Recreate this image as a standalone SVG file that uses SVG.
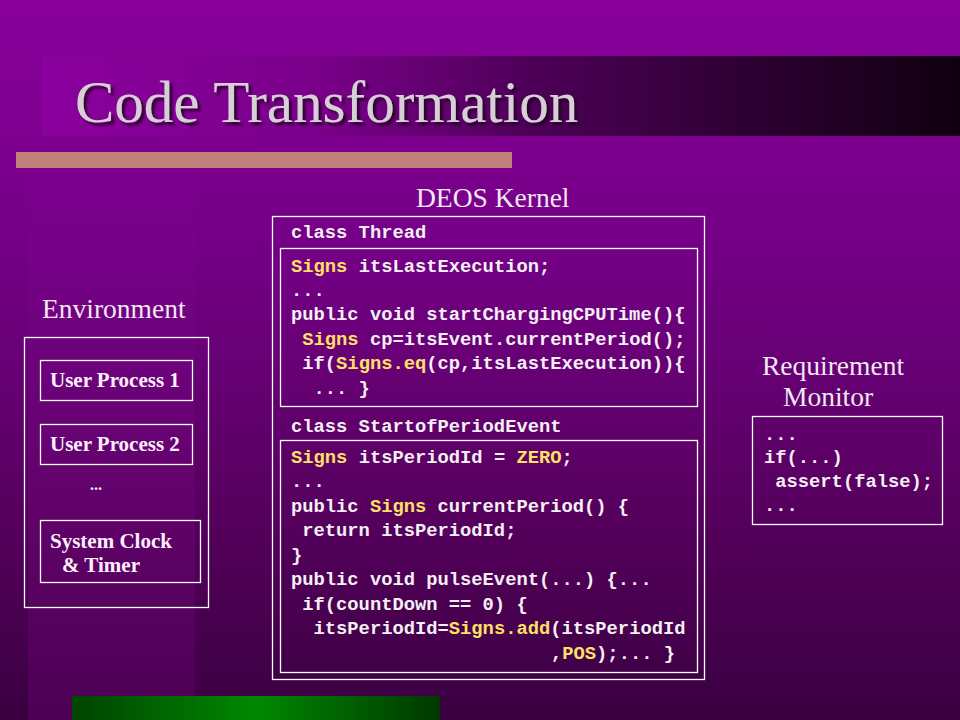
<svg xmlns="http://www.w3.org/2000/svg" width="960" height="720" viewBox="0 0 960 720">
<defs>
<linearGradient id="bg" x1="0" y1="0" x2="0" y2="1">
<stop offset="0" stop-color="#88009A"/>
<stop offset="0.35" stop-color="#740086"/>
<stop offset="0.7" stop-color="#57005F"/>
<stop offset="1" stop-color="#3A0040"/>
</linearGradient>
<linearGradient id="band" x1="0" y1="0" x2="1" y2="0">
<stop offset="0" stop-color="#8A009D"/>
<stop offset="0.3" stop-color="#7A008A"/>
<stop offset="0.55" stop-color="#4A0054"/>
<stop offset="1" stop-color="#100010"/>
</linearGradient>
<linearGradient id="col" x1="0" y1="0" x2="0" y2="1">
<stop offset="0" stop-color="#9A10AA" stop-opacity="0"/>
<stop offset="1" stop-color="#60006A" stop-opacity="1"/>
</linearGradient>
<linearGradient id="green" x1="0" y1="0" x2="1" y2="0">
<stop offset="0" stop-color="#004400"/>
<stop offset="0.5" stop-color="#008800"/>
<stop offset="1" stop-color="#003800"/>
</linearGradient>
<filter id="shadow" x="-5%" y="-20%" width="110%" height="150%">
<feDropShadow dx="3" dy="3" stdDeviation="1" flood-color="#200020" flood-opacity="0.8"/>
</filter>
<style>
.head{font-family:"Liberation Serif","Times New Roman",serif;font-size:27.5px;fill:#F2E8F2}
.lbl{font-family:"Liberation Serif","Times New Roman",serif;font-size:21px;font-weight:bold;fill:#FFF0FF}
.code{font-family:"Liberation Mono","DejaVu Sans Mono",monospace;font-size:18.8px;font-weight:bold;fill:#F4F0F4;white-space:pre}
.y{fill:#FFE066}
.box{fill:none;stroke:#FFFFFF;stroke-width:1.3}
</style>
</defs>
<rect width="960" height="720" fill="url(#bg)"/>
<rect x="28" y="150" width="167" height="570" fill="url(#col)" opacity="0.5"/>
<rect x="42" y="56" width="918" height="80" fill="url(#band)"/>
<text x="75" y="122" font-family="Liberation Serif,'Times New Roman',serif" font-size="59" fill="#D6D0D6" filter="url(#shadow)">Code Transformation</text>
<rect x="16" y="152" width="496" height="16" fill="#C0807A"/>
<rect x="72" y="696" width="368" height="24" fill="url(#green)"/>

<text class="head" x="416" y="207">DEOS Kernel</text>
<text class="head" x="42" y="318">Environment</text>
<text class="head" x="762" y="375">Requirement</text>
<text class="head" x="783" y="406">Monitor</text>

<g id="environment">
<rect class="box" x="24.5" y="337.5" width="184" height="270"/>
</g>
<g id="user-process-1">
<rect class="box" x="40.5" y="360.5" width="152" height="40"/>
<text class="lbl" x="50" y="387">User Process 1</text>
</g>
<g id="user-process-2">
<rect class="box" x="40.5" y="424.5" width="152" height="40"/>
<text class="lbl" x="50" y="451">User Process 2</text>
</g>
<text x="90" y="490" font-family="Liberation Serif,serif" font-size="16" font-weight="bold" fill="#FFF0FF">...</text>
<g id="system-clock">
<rect class="box" x="40.5" y="520.5" width="160" height="62"/>
<text class="lbl" x="50" y="548">System Clock</text>
<text class="lbl" x="62" y="572">&amp; Timer</text>
</g>

<g id="deos-kernel">
<rect class="box" x="272.5" y="216.5" width="432" height="463"/>
<text class="code" x="291" y="238">class Thread</text>
<text class="code" x="291" y="432">class StartofPeriodEvent</text>
</g>
<g id="thread">
<rect class="box" x="280.5" y="248.5" width="417" height="158"/>
<text class="code" x="291" y="272"><tspan class="y">Signs</tspan> itsLastExecution;</text>
<text class="code" x="291" y="296">...</text>
<text class="code" x="291" y="320">public void startChargingCPUTime(){</text>
<text class="code" x="291" y="345"> <tspan class="y">Signs</tspan> cp=itsEvent.currentPeriod();</text>
<text class="code" x="291" y="369"> if(<tspan class="y">Signs.eq</tspan>(cp,itsLastExecution)){</text>
<text class="code" x="291" y="394">  ... }</text>
</g>
<g id="start-of-period-event">
<rect class="box" x="280.5" y="440.5" width="417" height="232"/>
<text class="code" x="291" y="463"><tspan class="y">Signs</tspan> itsPeriodId = <tspan class="y">ZERO</tspan>;</text>
<text class="code" x="291" y="487">...</text>
<text class="code" x="291" y="512">public <tspan class="y">Signs</tspan> currentPeriod() {</text>
<text class="code" x="291" y="536"> return itsPeriodId;</text>
<text class="code" x="291" y="561">}</text>
<text class="code" x="291" y="585">public void pulseEvent(...) {...</text>
<text class="code" x="291" y="610"> if(countDown == 0) {</text>
<text class="code" x="291" y="634">  itsPeriodId=<tspan class="y">Signs.add</tspan>(itsPeriodId</text>
<text class="code" x="551" y="659">,<tspan class="y">POS</tspan>);... }</text>
</g>

<g id="requirement-monitor">
<rect class="box" x="752.5" y="416.5" width="190" height="108"/>
<text class="code" x="764" y="440">...</text>
<text class="code" x="764" y="463">if(...)</text>
<text class="code" x="764" y="487"> assert(false);</text>
<text class="code" x="764" y="511">...</text>
</g>
<g id="connectors"></g>
</svg>
